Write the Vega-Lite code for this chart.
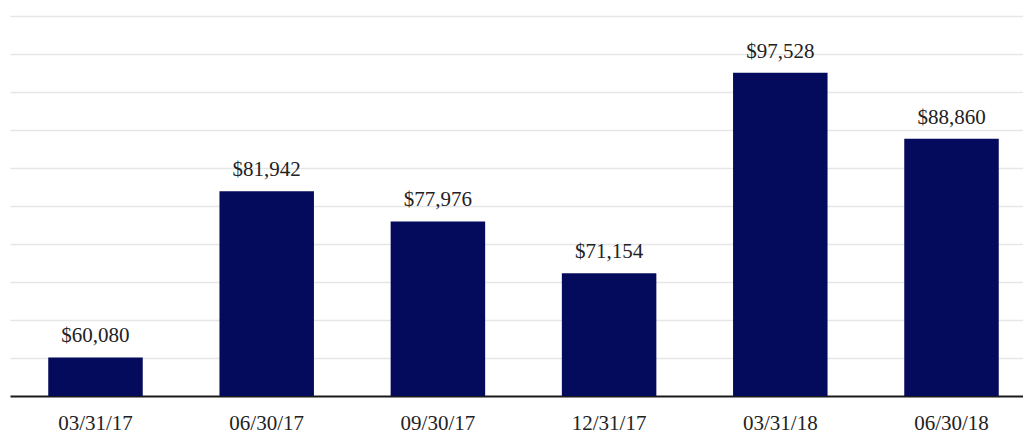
{
  "$schema": "https://vega.github.io/schema/vega-lite/v6.json",
  "autosize": "none",
  "width": 1013,
  "height": 380,
  "padding": {"left": 10, "top": 16, "right": 0, "bottom": 38},
  "background": "#ffffff",
  "config": {"view": {"stroke": null}},
  "data": {
    "values": [
      {"date": "03/31/17", "value": 60080},
      {"date": "06/30/17", "value": 81942},
      {"date": "09/30/17", "value": 77976},
      {"date": "12/31/17", "value": 71154},
      {"date": "03/31/18", "value": 97528},
      {"date": "06/30/18", "value": 88860}
    ]
  },
  "encoding": {
    "x": {
      "field": "date",
      "type": "nominal",
      "sort": null,
      "scale": {"paddingInner": 0.448, "paddingOuter": 0.1825, "align": 0.612},
      "axis": {
        "title": null,
        "labelAngle": 0,
        "ticks": false,
        "domain": true,
        "domainColor": "#1a1a1a",
        "domainWidth": 2,
        "labelFont": "Liberation Serif",
        "labelFontSize": 21,
        "labelColor": "#222222",
        "labelPadding": 16
      }
    },
    "y": {
      "field": "value",
      "type": "quantitative",
      "scale": {"domain": [55000, 105000], "zero": false, "nice": false},
      "axis": {
        "title": null,
        "labels": false,
        "ticks": false,
        "domain": false,
        "grid": true,
        "gridColor": "#e6e6e6",
        "gridWidth": 1.5,
        "values": [60000, 65000, 70000, 75000, 80000, 85000, 90000, 95000, 100000, 105000]
      }
    }
  },
  "layer": [
    {
      "mark": {"type": "bar", "color": "#050b5c"},
      "encoding": {"y2": {"datum": 55000}}
    },
    {
      "mark": {
        "type": "text",
        "dy": -15,
        "baseline": "alphabetic",
        "font": "Liberation Serif",
        "fontSize": 21,
        "color": "#222222"
      },
      "encoding": {"text": {"field": "value", "type": "quantitative", "format": "$,.0f"}}
    }
  ]
}
